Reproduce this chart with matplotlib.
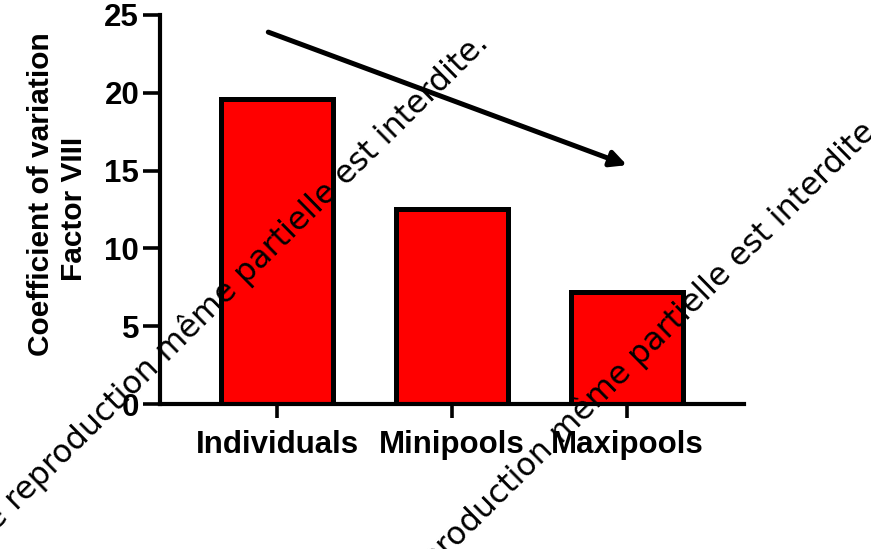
import matplotlib
matplotlib.use("Agg")
import matplotlib.pyplot as plt

# Coefficient of variation of Factor VIII per sample type
categories = ["Individuals", "Minipools", "Maxipools"]
cv_values = [19.6, 12.55, 7.17]
y_ticks = [0, 5, 10, 15, 20, 25]

# Trend arrow (data coordinates): start and end
arrow_start = (-0.05, 23.9)
arrow_end = (2.0, 15.35)

watermark = "Toute reproduction même partielle est interdite."

plt.rcParams["font.family"] = ["Liberation Sans", "DejaVu Sans"]

fig = plt.figure(figsize=(8.71, 5.49), dpi=100)
ax = fig.add_axes([160 / 871, 1 - 404 / 549, 584 / 871, 389 / 549])

x = list(range(len(categories)))
ax.bar(x, cv_values, width=0.635, color="#ff0000", edgecolor="black",
       linewidth=3.6, zorder=2)

ax.set_xlim(-0.669, 2.669)
ax.set_ylim(0, 25)
ax.set_yticks(y_ticks)
ax.set_yticklabels([str(t) for t in y_ticks], fontsize=22.5, fontweight="bold")
ax.set_xticks(x)
ax.set_xticklabels(categories, fontsize=22.5, fontweight="bold")

for side in ("top", "right"):
    ax.spines[side].set_visible(False)
for side in ("left", "bottom"):
    ax.spines[side].set_linewidth(3.0)
ax.tick_params(axis="y", length=12, width=2.6, pad=3)
ax.tick_params(axis="x", length=10, width=2.6, pad=9)

# Two-line y axis title
ax.text(-0.190, 0.540, "Coefficient of variation", transform=ax.transAxes,
        rotation=90, rotation_mode="anchor", ha="center", va="baseline",
        fontsize=21.5, fontweight="bold")
ax.text(-0.1336, 0.501, "Factor VIII", transform=ax.transAxes,
        rotation=90, rotation_mode="anchor", ha="center", va="baseline",
        fontsize=21.5, fontweight="bold")

ax.annotate("", xy=arrow_end, xytext=arrow_start,
            arrowprops=dict(arrowstyle="-|>", color="black", lw=3.6,
                            mutation_scale=24, shrinkA=0, shrinkB=0),
            zorder=3)

# Diagonal copyright notice, repeated
for (px, py) in [(490, 45), (884, 127)]:
    fig.text(px / 871, 1 - py / 549, watermark, rotation=44.6,
             rotation_mode="anchor", ha="right", va="baseline",
             fontsize=22.8, family="DejaVu Sans", color="black", zorder=10)

fig.savefig("out.png", dpi=100)
